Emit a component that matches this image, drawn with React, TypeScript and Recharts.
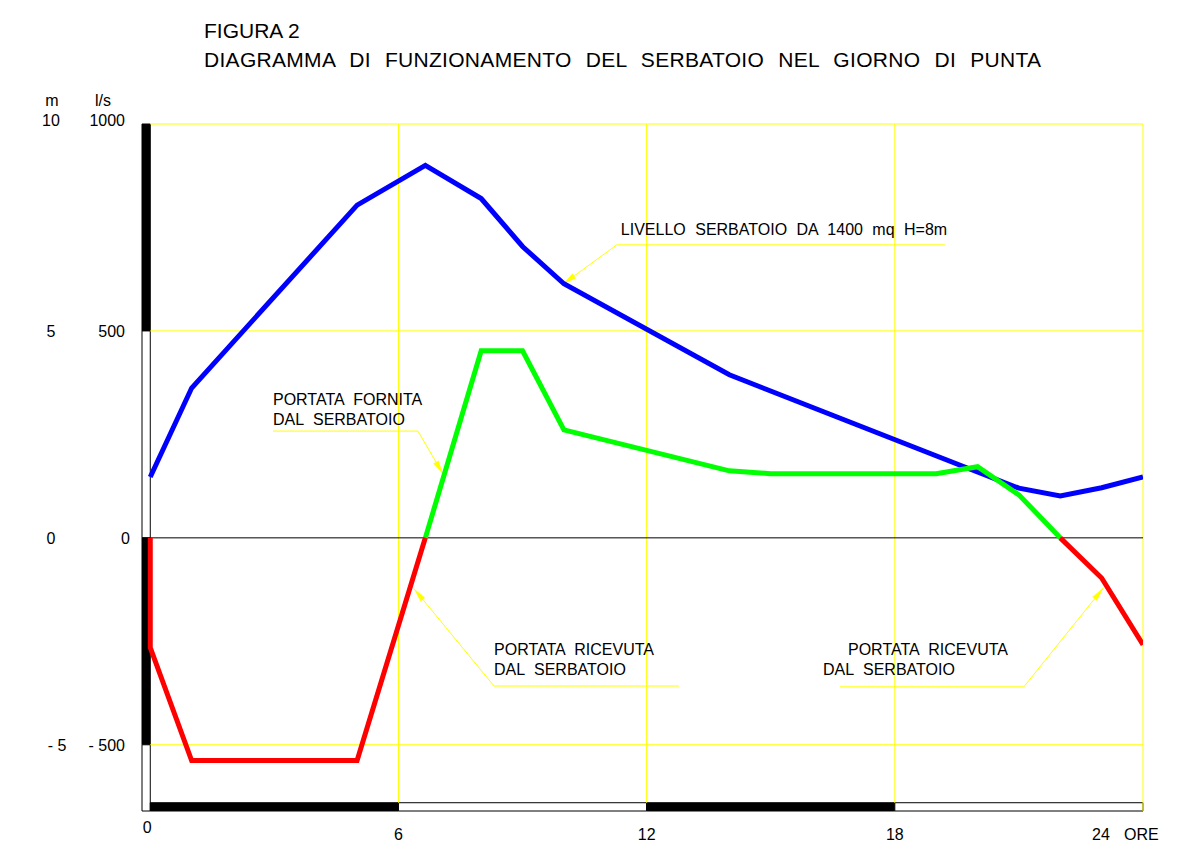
import React from "react";
import { LineChart, Line, XAxis, YAxis, ReferenceLine, ReferenceArea } from "recharts";

const levelHours = [0, 1, 5, 6.65, 8, 9, 10, 14, 21, 22, 23, 24];
const levelMetres = [1.47, 3.62, 8.04, 9.0, 8.2, 7.04, 6.14, 3.94, 1.2, 1.01, 1.21, 1.47];

const suppliedHours = [6.65, 8, 9, 10, 14, 15, 19, 20, 21, 22];
const suppliedFlow = [0, 452, 452, 261, 162, 155, 155, 172, 104, 0];

const receivedMorningHours = [0, 0, 1, 5, 6.65];
const receivedMorningFlow = [0, -265, -538, -538, 0];

const receivedEveningHours = [22, 23, 24];
const receivedEveningFlow = [0, -97, -258];

const hourTicks = [0, 6, 12, 18, 24];
const flowTicks = [1000, 500, 0, -500];

const FONT = "'Liberation Sans', Arial, sans-serif";
const YELLOW = "#ffff00";
const M_COL_CENTER = 51;
const Q_COL_RIGHT = 125;

const toRows = (hours: number[], values: number[]) => hours.map((h, i) => ({ h, v: values[i] }));

const levelData = toRows(levelHours, levelMetres);
const suppliedData = toRows(suppliedHours, suppliedFlow);
const morningData = toRows(receivedMorningHours, receivedMorningFlow);
const eveningData = toRows(receivedEveningHours, receivedEveningFlow);

// richiami: sottolineatura, testo e freccia (coordinate in ore / l/s)
const callouts = [
  {
    lines: ["LIVELLO SERBATOIO DA 1400 mq H=8m"],
    dx: [4],
    dy: [-10],
    under: [11.28, 19.21, 708],
    leaderFrom: [11.28, 708],
    tip: [9.975, 613]
  },
  {
    lines: ["PORTATA FORNITA", "DAL SERBATOIO"],
    dx: [0, 0],
    dy: [-26, -6],
    under: [2.967, 6.472, 258],
    leaderFrom: [6.472, 258],
    tip: [7.077, 154]
  },
  {
    lines: ["PORTATA RICEVUTA", "DAL SERBATOIO"],
    dx: [0, 0],
    dy: [-31, -11],
    under: [8.311, 12.78, -358],
    leaderFrom: [8.311, -358],
    tip: [6.376, -123]
  },
  {
    lines: ["PORTATA RICEVUTA", "DAL SERBATOIO"],
    dx: [8, -17],
    dy: [-32, -12],
    under: [16.675, 21.12, -360],
    leaderFrom: [21.12, -360],
    tip: [23.04, -121]
  }
];

function HourTick({ x, y, payload }: any) {
  const value = payload.value;
  const style = { fontFamily: FONT, fontSize: 16, fill: "#000" };
  if (value === 24) {
    return (
      <g>
        <text x={x - 51} y={y + 21} style={style}>24</text>
        <text x={x - 19} y={y + 21} style={style}>ORE</text>
      </g>
    );
  }
  return (
    <text x={value === 0 ? x - 3 : x} y={value === 0 ? y + 14 : y + 21} textAnchor="middle" style={style}>
      {value}
    </text>
  );
}

function FlowTick({ y, payload }: any) {
  const value = payload.value;
  const style = { fontFamily: FONT, fontSize: 16, fill: "#000" };
  const dy = value === 1000 ? 2 : 6;
  const fmt = (n: number) => (n < 0 ? `- ${Math.abs(n)}` : `${n}`);
  return (
    <g>
      <text x={value < 0 ? M_COL_CENTER + 6 : M_COL_CENTER} y={y + dy} textAnchor="middle" style={style}>
        {fmt(value / 100)}
      </text>
      <text x={value === 0 ? Q_COL_RIGHT + 5 : Q_COL_RIGHT} y={y + dy} textAnchor="end" style={style}>
        {fmt(value)}
      </text>
    </g>
  );
}

function Arrow(props: any) {
  const { x1, y1, x2, y2 } = props;
  const len = Math.hypot(x2 - x1, y2 - y1) || 1;
  const ux = (x2 - x1) / len;
  const uy = (y2 - y1) / len;
  const bx = x2 - ux * 14;
  const by = y2 - uy * 14;
  const nx = -uy * 3;
  const ny = ux * 3;
  return (
    <g>
      <line x1={x1} y1={y1} x2={x2} y2={y2} stroke={YELLOW} strokeWidth={1} />
      <polygon points={`${x2},${y2} ${bx + nx},${by + ny} ${bx - nx},${by - ny}`} fill={YELLOW} />
    </g>
  );
}

function makeUnderline(lines: string[], dx: number[], dy: number[]) {
  return (props: any) => {
    const { x1, y1, x2, y2 } = props;
    return (
      <g>
        <line x1={x1} y1={y1} x2={x2} y2={y2} stroke={YELLOW} strokeWidth={1} />
        {lines.map((t, i) => (
          <text
            key={t + i}
            x={x1 + dx[i]}
            y={y1 + dy[i]}
            style={{ fontFamily: FONT, fontSize: 16, fill: "#000", wordSpacing: 5 }}
          >
            {t}
          </text>
        ))}
      </g>
    );
  };
}

export default function App() {
  return (
    <div style={{ position: "absolute", left: 0, top: 0, width: 1200, height: 864, background: "#fff" }}>
      <svg width={1200} height={120} style={{ position: "absolute", left: 0, top: 0 }}>
        <text x={204} y={38} style={{ fontFamily: FONT, fontSize: 21, fill: "#000" }}>FIGURA 2</text>
        <text
          x={204}
          y={67}
          style={{ fontFamily: FONT, fontSize: 21, fill: "#000", letterSpacing: 0.3, wordSpacing: 8 }}
        >
          DIAGRAMMA DI FUNZIONAMENTO DEL SERBATOIO NEL GIORNO DI PUNTA
        </text>
        <text x={52} y={106} textAnchor="middle" style={{ fontFamily: FONT, fontSize: 16, fill: "#000" }}>m</text>
        <text x={103} y={106} textAnchor="middle" style={{ fontFamily: FONT, fontSize: 16, fill: "#000" }}>l/s</text>
      </svg>
      <div style={{ position: "absolute", left: 0, top: 0 }}>
        <LineChart width={1200} height={864} margin={{ top: 124, right: 57, bottom: 0, left: 0 }}>
          <XAxis
            type="number"
            dataKey="h"
            domain={[-0.2, 24]}
            allowDataOverflow
            ticks={hourTicks}
            interval={0}
            axisLine={false}
            tickLine={false}
            height={53}
            tick={<HourTick />}
          />
          <YAxis
            yAxisId="q"
            type="number"
            domain={[-660, 1000]}
            allowDataOverflow
            ticks={flowTicks}
            interval={0}
            axisLine={false}
            tickLine={false}
            width={142}
            tick={<FlowTick />}
          />
          <YAxis yAxisId="m" type="number" domain={[-6.6, 10]} allowDataOverflow hide />

          {/* fasce alternate bianco/nero sugli assi */}
          <ReferenceArea yAxisId="q" x1={-0.2} x2={0} y1={500} y2={1000} fill="#000" fillOpacity={1} stroke="#000" />
          <ReferenceArea yAxisId="q" x1={-0.2} x2={0} y1={0} y2={500} fill="#fff" fillOpacity={1} stroke="#000" />
          <ReferenceArea yAxisId="q" x1={-0.2} x2={0} y1={-500} y2={0} fill="#000" fillOpacity={1} stroke="#000" />
          <ReferenceArea yAxisId="q" x1={-0.2} x2={0} y1={-660} y2={-500} fill="#fff" fillOpacity={1} stroke="#000" />
          <ReferenceArea yAxisId="q" x1={0} x2={6} y1={-660} y2={-640} fill="#000" fillOpacity={1} stroke="#000" />
          <ReferenceArea yAxisId="q" x1={6} x2={12} y1={-660} y2={-640} fill="#fff" fillOpacity={1} stroke="#000" />
          <ReferenceArea yAxisId="q" x1={12} x2={18} y1={-660} y2={-640} fill="#000" fillOpacity={1} stroke="#000" />
          <ReferenceArea yAxisId="q" x1={18} x2={24} y1={-660} y2={-640} fill="#fff" fillOpacity={1} stroke="#000" />

          {/* griglia gialla */}
          {[6, 12, 18].map((h) => (
            <ReferenceLine
              key={"v" + h}
              yAxisId="q"
              segment={[{ x: h, y: -640 }, { x: h, y: 1000 }]}
              stroke={YELLOW}
              strokeWidth={1}
            />
          ))}
          <ReferenceLine yAxisId="q" segment={[{ x: 24, y: -660 }, { x: 24, y: 1000 }]} stroke={YELLOW} strokeWidth={1} />
          {[1000, 500, -500].map((v) => (
            <ReferenceLine
              key={"h" + v}
              yAxisId="q"
              segment={[{ x: 0, y: v }, { x: 24, y: v }]}
              stroke={YELLOW}
              strokeWidth={1}
            />
          ))}
          <ReferenceLine yAxisId="q" segment={[{ x: 0, y: 0 }, { x: 24, y: 0 }]} stroke="#000" strokeWidth={1} />

          {callouts.map((c, i) => (
            <ReferenceLine
              key={"u" + i}
              yAxisId="q"
              segment={[{ x: c.under[0], y: c.under[2] }, { x: c.under[1], y: c.under[2] }]}
              shape={makeUnderline(c.lines, c.dx, c.dy)}
            />
          ))}
          {callouts.map((c, i) => (
            <ReferenceLine
              key={"a" + i}
              yAxisId="q"
              segment={[{ x: c.leaderFrom[0], y: c.leaderFrom[1] }, { x: c.tip[0], y: c.tip[1] }]}
              shape={(p: any) => <Arrow {...p} />}
            />
          ))}

          <Line
            yAxisId="m"
            data={levelData}
            dataKey="v"
            type="linear"
            stroke="#0000ff"
            strokeWidth={5}
            dot={false}
            activeDot={false}
            isAnimationActive={false}
          />
          <Line
            yAxisId="q"
            data={suppliedData}
            dataKey="v"
            type="linear"
            stroke="#00ff00"
            strokeWidth={5}
            dot={false}
            activeDot={false}
            isAnimationActive={false}
          />
          <Line
            yAxisId="q"
            data={morningData}
            dataKey="v"
            type="linear"
            stroke="#ff0000"
            strokeWidth={5}
            dot={false}
            activeDot={false}
            isAnimationActive={false}
          />
          <Line
            yAxisId="q"
            data={eveningData}
            dataKey="v"
            type="linear"
            stroke="#ff0000"
            strokeWidth={5}
            dot={false}
            activeDot={false}
            isAnimationActive={false}
          />
        </LineChart>
      </div>
    </div>
  );
}
